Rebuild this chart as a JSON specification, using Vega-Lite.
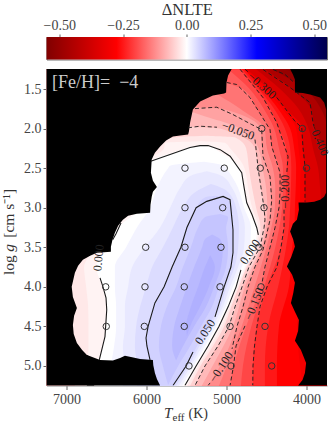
{"$schema":"https://vega.github.io/schema/vega-lite/v6.json","padding":{"left":1.5,"top":0,"right":0,"bottom":0},"config":{"font":"Liberation Serif","view":{"stroke":null},"axis":{"labelFontSize":14,"labelColor":"#444","tickColor":"#666","domainColor":"#888","grid":false,"title":null}},
"datasets":{
"reds":[
{"v":-0.52,"g":1.247,"t":3744},{"v":-0.52,"g":5.247,"t":3744},
{"v":-0.5,"g":1.25,"t":4270},{"v":-0.5,"g":1.5,"t":3830},{"v":-0.5,"g":1.75,"t":3744},{"v":-0.5,"g":5.25,"t":3744},
{"v":-0.45,"g":1.25,"t":4430},{"v":-0.45,"g":1.5,"t":4020},{"v":-0.45,"g":1.75,"t":3820},{"v":-0.45,"g":2,"t":3744},{"v":-0.45,"g":5.25,"t":3744},
{"v":-0.4,"g":1.25,"t":4520},{"v":-0.4,"g":1.5,"t":4180},{"v":-0.4,"g":1.75,"t":3945},{"v":-0.4,"g":2,"t":3895},{"v":-0.4,"g":2.25,"t":3780},{"v":-0.4,"g":2.5,"t":3744},{"v":-0.4,"g":5.25,"t":3744},
{"v":-0.35,"g":1.25,"t":4630},{"v":-0.35,"g":1.5,"t":4330},{"v":-0.35,"g":1.75,"t":4100},{"v":-0.35,"g":2,"t":3975},{"v":-0.35,"g":2.25,"t":3920},{"v":-0.35,"g":2.5,"t":3855},{"v":-0.35,"g":2.75,"t":3830},{"v":-0.35,"g":3,"t":3805},{"v":-0.35,"g":3.25,"t":3744},{"v":-0.35,"g":5.25,"t":3744},
{"v":-0.3,"g":1.25,"t":4745},{"v":-0.3,"g":1.5,"t":4480},{"v":-0.3,"g":1.75,"t":4255},{"v":-0.3,"g":2,"t":4055},{"v":-0.3,"g":2.25,"t":4045},{"v":-0.3,"g":2.5,"t":4020},{"v":-0.3,"g":2.75,"t":4020},{"v":-0.3,"g":3,"t":4020},{"v":-0.3,"g":3.25,"t":3980},{"v":-0.3,"g":3.5,"t":3955},{"v":-0.3,"g":4,"t":3930},{"v":-0.3,"g":4.5,"t":3895},{"v":-0.3,"g":5,"t":3770},{"v":-0.3,"g":5.25,"t":3744},
{"v":-0.275,"g":1.25,"t":4760},{"v":-0.275,"g":1.5,"t":4520},{"v":-0.275,"g":1.75,"t":4305},{"v":-0.275,"g":2,"t":4130},{"v":-0.275,"g":2.25,"t":4100},{"v":-0.275,"g":2.5,"t":4075},{"v":-0.275,"g":2.75,"t":4080},{"v":-0.275,"g":3,"t":4080},{"v":-0.275,"g":3.25,"t":4070},{"v":-0.275,"g":3.5,"t":4070},{"v":-0.275,"g":4,"t":4080},{"v":-0.275,"g":4.5,"t":4120},{"v":-0.275,"g":5,"t":4080},{"v":-0.275,"g":5.25,"t":4045},
{"v":-0.25,"g":1.25,"t":4780},{"v":-0.25,"g":1.5,"t":4555},{"v":-0.25,"g":1.75,"t":4355},{"v":-0.25,"g":2,"t":4205},{"v":-0.25,"g":2.25,"t":4155},{"v":-0.25,"g":2.5,"t":4130},{"v":-0.25,"g":2.75,"t":4135},{"v":-0.25,"g":3,"t":4145},{"v":-0.25,"g":3.25,"t":4150},{"v":-0.25,"g":3.5,"t":4180},{"v":-0.25,"g":4,"t":4220},{"v":-0.25,"g":4.5,"t":4345},{"v":-0.25,"g":5,"t":4370},{"v":-0.25,"g":5.25,"t":4370},
{"v":-0.225,"g":1.25,"t":4805},{"v":-0.225,"g":1.5,"t":4595},{"v":-0.225,"g":1.75,"t":4405},{"v":-0.225,"g":2,"t":4270},{"v":-0.225,"g":2.25,"t":4205},{"v":-0.225,"g":2.5,"t":4190},{"v":-0.225,"g":2.75,"t":4195},{"v":-0.225,"g":3,"t":4205},{"v":-0.225,"g":3.25,"t":4220},{"v":-0.225,"g":3.5,"t":4255},{"v":-0.225,"g":4,"t":4355},{"v":-0.225,"g":4.5,"t":4480},{"v":-0.225,"g":5,"t":4520},{"v":-0.225,"g":5.25,"t":4520},
{"v":-0.2,"g":1.25,"t":4830},{"v":-0.2,"g":1.5,"t":4630},{"v":-0.2,"g":1.75,"t":4455},{"v":-0.2,"g":2,"t":4345},{"v":-0.2,"g":2.25,"t":4255},{"v":-0.2,"g":2.5,"t":4245},{"v":-0.2,"g":2.75,"t":4255},{"v":-0.2,"g":3,"t":4270},{"v":-0.2,"g":3.25,"t":4280},{"v":-0.2,"g":3.5,"t":4320},{"v":-0.2,"g":4,"t":4495},{"v":-0.2,"g":4.5,"t":4620},{"v":-0.2,"g":5,"t":4670},{"v":-0.2,"g":5.25,"t":4670},
{"v":-0.175,"g":1.25,"t":4980},{"v":-0.175,"g":1.5,"t":4710},{"v":-0.175,"g":1.75,"t":4535},{"v":-0.175,"g":2,"t":4405},{"v":-0.175,"g":2.25,"t":4345},{"v":-0.175,"g":2.5,"t":4295},{"v":-0.175,"g":2.75,"t":4295},{"v":-0.175,"g":3,"t":4305},{"v":-0.175,"g":3.25,"t":4340},{"v":-0.175,"g":3.5,"t":4390},{"v":-0.175,"g":4,"t":4530},{"v":-0.175,"g":4.5,"t":4690},{"v":-0.175,"g":5,"t":4795},{"v":-0.175,"g":5.25,"t":4820},
{"v":-0.15,"g":1.25,"t":5145},{"v":-0.15,"g":1.42,"t":4995},{"v":-0.15,"g":1.5,"t":4795},{"v":-0.15,"g":1.75,"t":4620},{"v":-0.15,"g":2,"t":4470},{"v":-0.15,"g":2.25,"t":4430},{"v":-0.15,"g":2.5,"t":4345},{"v":-0.15,"g":2.75,"t":4330},{"v":-0.15,"g":3,"t":4345},{"v":-0.15,"g":3.25,"t":4395},{"v":-0.15,"g":3.5,"t":4455},{"v":-0.15,"g":4,"t":4570},{"v":-0.15,"g":4.5,"t":4755},{"v":-0.15,"g":5,"t":4910},{"v":-0.15,"g":5.25,"t":4955},
{"v":-0.125,"g":1.25,"t":5455},{"v":-0.125,"g":1.5,"t":5205},{"v":-0.125,"g":1.75,"t":4830},{"v":-0.125,"g":2,"t":4525},{"v":-0.125,"g":2.25,"t":4495},{"v":-0.125,"g":2.5,"t":4420},{"v":-0.125,"g":2.75,"t":4390},{"v":-0.125,"g":3,"t":4395},{"v":-0.125,"g":3.25,"t":4440},{"v":-0.125,"g":3.5,"t":4500},{"v":-0.125,"g":4,"t":4650},{"v":-0.125,"g":4.5,"t":4810},{"v":-0.125,"g":5,"t":4995},{"v":-0.125,"g":5.25,"t":5095},
{"v":-0.1,"g":1.25,"t":5960},{"v":-0.1,"g":1.5,"t":5710},{"v":-0.1,"g":1.72,"t":5460},{"v":-0.1,"g":1.75,"t":5055},{"v":-0.1,"g":2,"t":4580},{"v":-0.1,"g":2.25,"t":4555},{"v":-0.1,"g":2.5,"t":4495},{"v":-0.1,"g":2.75,"t":4445},{"v":-0.1,"g":3,"t":4445},{"v":-0.1,"g":3.25,"t":4480},{"v":-0.1,"g":3.5,"t":4545},{"v":-0.1,"g":4,"t":4730},{"v":-0.1,"g":4.5,"t":4870},{"v":-0.1,"g":5,"t":5080},{"v":-0.1,"g":5.25,"t":5230},
{"v":-0.075,"g":1.25,"t":5960},{"v":-0.075,"g":1.5,"t":5770},{"v":-0.075,"g":1.75,"t":5520},{"v":-0.075,"g":2,"t":4830},{"v":-0.075,"g":2.25,"t":4600},{"v":-0.075,"g":2.5,"t":4550},{"v":-0.075,"g":2.75,"t":4505},{"v":-0.075,"g":3,"t":4490},{"v":-0.075,"g":3.25,"t":4505},{"v":-0.075,"g":3.5,"t":4560},{"v":-0.075,"g":4,"t":4770},{"v":-0.075,"g":4.5,"t":4920},{"v":-0.075,"g":5,"t":5175},{"v":-0.075,"g":5.25,"t":5310},
{"v":-0.05,"g":1.25,"t":5960},{"v":-0.05,"g":1.75,"t":5960},{"v":-0.05,"g":1.97,"t":5480},{"v":-0.05,"g":2,"t":5080},{"v":-0.05,"g":2.25,"t":4645},{"v":-0.05,"g":2.5,"t":4605},{"v":-0.05,"g":2.75,"t":4570},{"v":-0.05,"g":3,"t":4530},{"v":-0.05,"g":3.25,"t":4530},{"v":-0.05,"g":3.5,"t":4580},{"v":-0.05,"g":4,"t":4805},{"v":-0.05,"g":4.5,"t":4970},{"v":-0.05,"g":5,"t":5270},{"v":-0.05,"g":5.25,"t":5395}
],
"inner":[
{"v":-0.025,"g":2.09,"a":5270,"b":5270},{"v":-0.025,"g":2.11,"a":5645,"b":4895},{"v":-0.025,"g":2.25,"a":6080,"b":4755},{"v":-0.025,"g":2.5,"a":6330,"b":4720},{"v":-0.025,"g":2.75,"a":6395,"b":4680},{"v":-0.025,"g":3,"a":6455,"b":4630},{"v":-0.025,"g":3.25,"a":6580,"b":4575},{"v":-0.025,"g":3.5,"a":6770,"b":4610},{"v":-0.025,"g":3.75,"a":6930,"b":4745},{"v":-0.025,"g":4,"a":6970,"b":4845},{"v":-0.025,"g":4.25,"a":6970,"b":4940},{"v":-0.025,"g":4.5,"a":6945,"b":5030},{"v":-0.025,"g":4.75,"a":6905,"b":5170},{"v":-0.025,"g":5,"a":6895,"b":5325},{"v":-0.025,"g":5.25,"a":6895,"b":5455},
{"v":-0.0125,"g":2.16,"a":5305,"b":5305},{"v":-0.0125,"g":2.18,"a":5770,"b":5020},{"v":-0.0125,"g":2.25,"a":5780,"b":4955},{"v":-0.0125,"g":2.5,"a":6180,"b":4775},{"v":-0.0125,"g":2.75,"a":6205,"b":4730},{"v":-0.0125,"g":3,"a":6270,"b":4680},{"v":-0.0125,"g":3.25,"a":6470,"b":4600},{"v":-0.0125,"g":3.5,"a":6630,"b":4630},{"v":-0.0125,"g":3.75,"a":6780,"b":4755},{"v":-0.0125,"g":4,"a":6755,"b":4860},{"v":-0.0125,"g":4.25,"a":6730,"b":4955},{"v":-0.0125,"g":4.5,"a":6725,"b":5060},{"v":-0.0125,"g":4.75,"a":6725,"b":5200},{"v":-0.0125,"g":5,"a":6750,"b":5355},{"v":-0.0125,"g":5.25,"a":6770,"b":5490},
{"v":0,"g":2.22,"a":5330,"b":5330},{"v":0,"g":2.23,"a":5455,"b":5180},{"v":0,"g":2.25,"a":5505,"b":5155},{"v":0,"g":2.4,"a":5930,"b":4920},{"v":0,"g":2.5,"a":6020,"b":4830},{"v":0,"g":2.75,"a":6020,"b":4780},{"v":0,"g":3,"a":6080,"b":4730},{"v":0,"g":3.25,"a":6355,"b":4620},{"v":0,"g":3.5,"a":6480,"b":4645},{"v":0,"g":3.75,"a":6630,"b":4770},{"v":0,"g":4,"a":6545,"b":4880},{"v":0,"g":4.25,"a":6500,"b":4980},{"v":0,"g":4.5,"a":6505,"b":5095},{"v":0,"g":4.75,"a":6545,"b":5230},{"v":0,"g":5,"a":6605,"b":5380},{"v":0,"g":5.25,"a":6640,"b":5520},
{"v":0.0125,"g":2.42,"a":5280,"b":5280},{"v":0.0125,"g":2.47,"a":5705,"b":5030},{"v":0.0125,"g":2.5,"a":5730,"b":5005},{"v":0.0125,"g":2.75,"a":5870,"b":4855},{"v":0.0125,"g":3,"a":5955,"b":4780},{"v":0.0125,"g":3.25,"a":6120,"b":4695},{"v":0.0125,"g":3.5,"a":6255,"b":4705},{"v":0.0125,"g":3.75,"a":6395,"b":4810},{"v":0.0125,"g":4,"a":6395,"b":4920},{"v":0.0125,"g":4.25,"a":6380,"b":5010},{"v":0.0125,"g":4.5,"a":6380,"b":5130},{"v":0.0125,"g":4.75,"a":6405,"b":5270},{"v":0.0125,"g":5,"a":6445,"b":5410},{"v":0.0125,"g":5.25,"a":6470,"b":5555},
{"v":0.025,"g":2.54,"a":5245,"b":5245},{"v":0.025,"g":2.6,"a":5455,"b":5055},{"v":0.025,"g":2.75,"a":5580,"b":4930},{"v":0.025,"g":3,"a":5705,"b":4830},{"v":0.025,"g":3.25,"a":5830,"b":4770},{"v":0.025,"g":3.5,"a":6020,"b":4780},{"v":0.025,"g":3.75,"a":6180,"b":4855},{"v":0.025,"g":4,"a":6230,"b":4955},{"v":0.025,"g":4.25,"a":6270,"b":5045},{"v":0.025,"g":4.5,"a":6270,"b":5170},{"v":0.025,"g":4.75,"a":6295,"b":5305},{"v":0.025,"g":5,"a":6280,"b":5445},{"v":0.025,"g":5.25,"a":6295,"b":5595},
{"v":0.0375,"g":2.7,"a":5195,"b":5195},{"v":0.0375,"g":2.78,"a":5355,"b":5005},{"v":0.0375,"g":3,"a":5545,"b":4880},{"v":0.0375,"g":3.25,"a":5670,"b":4845},{"v":0.0375,"g":3.5,"a":5795,"b":4855},{"v":0.0375,"g":3.75,"a":5930,"b":4900},{"v":0.0375,"g":4,"a":6005,"b":4995},{"v":0.0375,"g":4.25,"a":6080,"b":5075},{"v":0.0375,"g":4.5,"a":6130,"b":5200},{"v":0.0375,"g":4.75,"a":6145,"b":5340},{"v":0.0375,"g":5,"a":6120,"b":5475},{"v":0.0375,"g":5.25,"a":6120,"b":5630},
{"v":0.05,"g":2.85,"a":5145,"b":5145},{"v":0.05,"g":2.87,"a":5270,"b":5020},{"v":0.05,"g":3,"a":5380,"b":4930},{"v":0.05,"g":3.25,"a":5495,"b":4920},{"v":0.05,"g":3.5,"a":5570,"b":4920},{"v":0.05,"g":3.75,"a":5680,"b":4945},{"v":0.05,"g":4,"a":5780,"b":5030},{"v":0.05,"g":4.25,"a":5905,"b":5105},{"v":0.05,"g":4.5,"a":5980,"b":5230},{"v":0.05,"g":4.75,"a":6000,"b":5370},{"v":0.05,"g":5,"a":5945,"b":5505},{"v":0.05,"g":5.25,"a":5930,"b":5670},
{"v":0.0625,"g":3.08,"a":5080,"b":5080},{"v":0.0625,"g":3.12,"a":5270,"b":4980},{"v":0.0625,"g":3.25,"a":5355,"b":5005},{"v":0.0625,"g":3.5,"a":5445,"b":4980},{"v":0.0625,"g":3.75,"a":5545,"b":5005},{"v":0.0625,"g":4,"a":5630,"b":5095},{"v":0.0625,"g":4.25,"a":5745,"b":5180},{"v":0.0625,"g":4.5,"a":5820,"b":5320},{"v":0.0625,"g":4.75,"a":5845,"b":5455},{"v":0.0625,"g":5,"a":5795,"b":5605},{"v":0.0625,"g":5.24,"a":5730,"b":5730},
{"v":0.075,"g":3.34,"a":5180,"b":5180},{"v":0.075,"g":3.4,"a":5270,"b":5080},{"v":0.075,"g":3.5,"a":5305,"b":5045},{"v":0.075,"g":3.75,"a":5405,"b":5070},{"v":0.075,"g":4,"a":5495,"b":5155},{"v":0.075,"g":4.25,"a":5580,"b":5255},{"v":0.075,"g":4.5,"a":5655,"b":5405},{"v":0.075,"g":4.75,"a":5680,"b":5545},{"v":0.075,"g":4.93,"a":5630,"b":5630},
{"v":0.085,"g":3.6,"a":5205,"b":5205},{"v":0.085,"g":3.75,"a":5270,"b":5145},{"v":0.085,"g":4,"a":5355,"b":5220},{"v":0.085,"g":4.25,"a":5445,"b":5330},{"v":0.085,"g":4.5,"a":5505,"b":5455},{"v":0.085,"g":4.62,"a":5495,"b":5495}
],
"maskL":[{"g":1.247,"t":4935},{"g":1.33,"t":4980},{"g":1.418,"t":5000},{"g":1.544,"t":5005},{"g":1.557,"t":5030},{"g":1.582,"t":5170},{"g":1.658,"t":5330},{"g":1.759,"t":5420},{"g":1.924,"t":5455},{"g":2.038,"t":5470},{"g":2.076,"t":5480},{"g":2.089,"t":5580},{"g":2.101,"t":5670},{"g":2.152,"t":5755},{"g":2.228,"t":5830},{"g":2.304,"t":5895},{"g":2.392,"t":5935},{"g":2.557,"t":5945},{"g":2.658,"t":5920},{"g":2.738,"t":5870},{"g":2.797,"t":5920},{"g":2.861,"t":5935},{"g":2.962,"t":5950},{"g":3.063,"t":5955},{"g":3.076,"t":6120},{"g":3.101,"t":6230},{"g":3.152,"t":6295},{"g":3.228,"t":6355},{"g":3.316,"t":6395},{"g":3.405,"t":6425},{"g":3.494,"t":6445},{"g":3.557,"t":6445},{"g":3.57,"t":6620},{"g":3.608,"t":6705},{"g":3.658,"t":6795},{"g":3.734,"t":6855},{"g":3.823,"t":6895},{"g":4,"t":6935},{"g":4.127,"t":6920},{"g":4.266,"t":6870},{"g":4.367,"t":6905},{"g":4.481,"t":6920},{"g":4.595,"t":6910},{"g":4.709,"t":6870},{"g":4.797,"t":6805},{"g":4.861,"t":6745},{"g":4.911,"t":6655},{"g":5.247,"t":6655}],
"maskR":[{"g":1.247,"t":4205},{"g":1.316,"t":4170},{"g":1.38,"t":4145},{"g":1.544,"t":4145},{"g":1.55,"t":4045},{"g":1.57,"t":3955},{"g":1.607,"t":3830},{"g":1.671,"t":3780},{"g":1.759,"t":3755},{"g":2.81,"t":3755},{"g":2.861,"t":3780},{"g":2.899,"t":3830},{"g":2.924,"t":3905},{"g":2.933,"t":3995},{"g":2.934,"t":4100},{"g":3.025,"t":4095},{"g":3.152,"t":4120},{"g":3.203,"t":4170},{"g":3.3,"t":4205},{"g":3.405,"t":4165},{"g":3.49,"t":4145},{"g":3.62,"t":4190},{"g":3.743,"t":4245},{"g":3.848,"t":4180},{"g":3.949,"t":4145},{"g":4.076,"t":4165},{"g":4.203,"t":4195},{"g":4.316,"t":4145},{"g":4.418,"t":4095},{"g":4.557,"t":4105},{"g":4.68,"t":4145},{"g":4.798,"t":4070},{"g":4.962,"t":4005},{"g":5.089,"t":4020},{"g":5.178,"t":4050},{"g":5.247,"t":4105}],
"maskB":[{"t":6745,"g":4.861},{"t":6580,"g":4.924},{"t":6420,"g":4.93},{"t":6330,"g":4.899},{"t":6270,"g":4.87},{"t":6180,"g":4.89},{"t":6080,"g":4.911},{"t":5920,"g":4.924},{"t":5915,"g":4.99},{"t":5895,"g":5.089},{"t":5870,"g":5.165},{"t":5830,"g":5.247}],
"solid":[
{"c":"a","g":2.414,"t":5947},{"c":"a","g":2.316,"t":5670},{"c":"a","g":2.24,"t":5456},{"c":"a","g":2.215,"t":5330},{"c":"a","g":2.215,"t":5230},{"c":"a","g":2.266,"t":5080},{"c":"a","g":2.35,"t":4955},{"c":"a","g":2.557,"t":4810},{"c":"a","g":2.747,"t":4780},{"c":"a","g":2.937,"t":4747},{"c":"a","g":3.089,"t":4681},{"c":"a","g":3.253,"t":4622},{"c":"a","g":3.342,"t":4602},
{"c":"b","g":3.785,"t":4820},{"c":"b","g":4,"t":4880},{"c":"b","g":4.253,"t":4980},{"c":"b","g":4.5,"t":5095},{"c":"b","g":4.747,"t":5230},{"c":"b","g":5,"t":5380},{"c":"b","g":5.247,"t":5520},
{"c":"c","g":4.924,"t":5956},{"c":"c","g":4.747,"t":5995},{"c":"c","g":4.646,"t":6006},{"c":"c","g":4.5,"t":5980},{"c":"c","g":4.203,"t":5895},{"c":"c","g":4,"t":5780},{"c":"c","g":3.75,"t":5680},{"c":"c","g":3.5,"t":5570},{"c":"c","g":3.25,"t":5495},{"c":"c","g":3,"t":5380},{"c":"c","g":2.92,"t":5247},{"c":"c","g":2.857,"t":5043},{"c":"c","g":2.899,"t":4956},{"c":"c","g":3.278,"t":4919},{"c":"c","g":3.57,"t":4919},{"c":"c","g":3.75,"t":4945},{"c":"c","g":4,"t":5030},{"c":"c","g":4.38,"t":5144},
{"c":"d","g":4.823,"t":5419},{"c":"d","g":5,"t":5505},{"c":"d","g":5.247,"t":5669},
{"c":"e","g":3.886,"t":6581},{"c":"e","g":4,"t":6544},{"c":"e","g":4.139,"t":6506},{"c":"e","g":4.291,"t":6497},{"c":"e","g":4.629,"t":6519},{"c":"e","g":4.924,"t":6590},
{"c":"f","g":3.405,"t":6423},{"c":"f","g":3.329,"t":6381},{"c":"f","g":3.194,"t":6319}
],
"dashed":[
{"c":"a","g":1.99,"t":5481},{"c":"a","g":1.97,"t":5331},{"c":"a","g":1.983,"t":5119},
{"c":"b","g":2.139,"t":4644},{"c":"b","g":2.367,"t":4619},{"c":"b","g":2.5,"t":4606},{"c":"b","g":2.747,"t":4569},{"c":"b","g":3,"t":4531},{"c":"b","g":3.152,"t":4519},{"c":"b","g":3.253,"t":4531},{"c":"b","g":3.5,"t":4581},{"c":"b","g":3.747,"t":4719},{"c":"b","g":4,"t":4806},{"c":"b","g":4.253,"t":4894},{"c":"b","g":4.5,"t":4969},{"c":"b","g":4.747,"t":5106},{"c":"b","g":5,"t":5269},{"c":"b","g":5.247,"t":5394},
{"c":"c","g":1.747,"t":5394},{"c":"c","g":1.73,"t":5122},{"c":"c","g":1.823,"t":4919},{"c":"c","g":1.949,"t":4685},{"c":"c","g":2.013,"t":4560},{"c":"c","g":2.354,"t":4544},{"c":"c","g":2.608,"t":4456},{"c":"c","g":2.899,"t":4435},{"c":"c","g":3.152,"t":4456},{"c":"c","g":3.532,"t":4544},{"c":"c","g":3.747,"t":4644},{"c":"c","g":4,"t":4731},{"c":"c","g":4.253,"t":4794},{"c":"c","g":4.5,"t":4869},{"c":"c","g":4.785,"t":4931},
{"c":"d","g":5.215,"t":5206},{"c":"d","g":5.247,"t":5231},
{"c":"e","g":1.418,"t":4997},{"c":"e","g":1.443,"t":4872},{"c":"e","g":1.608,"t":4706},{"c":"e","g":1.844,"t":4560},{"c":"e","g":2.013,"t":4456},{"c":"e","g":2.224,"t":4435},{"c":"e","g":2.557,"t":4331},{"c":"e","g":2.81,"t":4331},{"c":"e","g":3,"t":4344},{"c":"e","g":3.253,"t":4394},{"c":"e","g":3.5,"t":4456},{"c":"e","g":3.747,"t":4519},{"c":"e","g":3.949,"t":4556},
{"c":"f","g":4.494,"t":4769},{"c":"f","g":4.747,"t":4881},{"c":"f","g":5,"t":4912},{"c":"f","g":5.247,"t":4956},
{"c":"g","g":1.25,"t":4831},{"c":"g","g":1.5,"t":4631},{"c":"g","g":1.608,"t":4544},{"c":"g","g":1.924,"t":4372},{"c":"g","g":2.354,"t":4231},{"c":"g","g":2.57,"t":4247},
{"c":"h","g":3.025,"t":4281},{"c":"h","g":3.253,"t":4281},{"c":"h","g":3.5,"t":4319},{"c":"h","g":3.747,"t":4369},{"c":"h","g":4,"t":4494},{"c":"h","g":4.25,"t":4581},{"c":"h","g":4.5,"t":4619},{"c":"h","g":4.747,"t":4650},{"c":"h","g":5,"t":4669},{"c":"h","g":5.247,"t":4672},
{"c":"i","g":1.25,"t":4769},{"c":"i","g":1.291,"t":4719},
{"c":"j","g":1.607,"t":4372},{"c":"j","g":1.908,"t":4144},{"c":"j","g":1.987,"t":4060},{"c":"j","g":2.24,"t":4044},{"c":"j","g":2.481,"t":4019},{"c":"j","g":2.924,"t":4019},
{"c":"k","g":1.253,"t":4544},{"c":"k","g":1.481,"t":4206},{"c":"k","g":1.671,"t":3956},{"c":"k","g":1.924,"t":3919},{"c":"k","g":1.962,"t":3906},
{"c":"l","g":1.253,"t":4419},{"c":"l","g":1.316,"t":4269},{"c":"l","g":1.405,"t":4169}
],
"pts":[{"t":4560,"g":2},{"t":4052,"g":2},{"t":5519,"g":2.5},{"t":5028,"g":2.5},{"t":4578,"g":2.5},{"t":4000,"g":2.5},{"t":5519,"g":3},{"t":5048,"g":3},{"t":4531,"g":3},{"t":6010,"g":3.5},{"t":5519,"g":3.5},{"t":5069,"g":3.5},{"t":4594,"g":3.5},{"t":6510,"g":4},{"t":6019,"g":4},{"t":5528,"g":4},{"t":5081,"g":4},{"t":4569,"g":4},{"t":6503,"g":4.5},{"t":6027,"g":4.5},{"t":5528,"g":4.5},{"t":4956,"g":4.5},{"t":4519,"g":4.5},{"t":5469,"g":5},{"t":4944,"g":5},{"t":4435,"g":5}]
},
"spacing":9,
"vconcat":[
{"width":280.5,"height":22.5,"view":{"stroke":"#777","strokeWidth":1},
"data":{"values":[{"a":-0.55,"b":0.55}]},
"mark":{"type":"rect","color":{"gradient":"linear","x1":0,"x2":1,"y1":0,"y2":0,"stops":[{"offset":0,"color":"#800000"},{"offset":0.25,"color":"#ff0000"},{"offset":0.5,"color":"#ffffff"},{"offset":0.75,"color":"#0000ff"},{"offset":1,"color":"#00004d"}]}},
"encoding":{"x":{"field":"a","type":"quantitative","scale":{"domain":[-0.55,0.55],"nice":false,"zero":false},"axis":{"orient":"top","values":[-0.5,-0.25,0,0.25,0.5],"format":".2f","tickSize":3,"labelPadding":2,"domain":false,"title":"ΔNLTE","titleFontSize":16.5,"titleFontWeight":"normal","titleColor":"#333","titlePadding":1}},"x2":{"field":"b"}}},
{"width":280.5,"height":316.5,"view":{"fill":"black","stroke":null},
"encoding":{"x":{"field":"t","type":"quantitative","scale":{"domain":[7250,3744],"nice":false,"zero":false},"axis":{"values":[7000,6000,5000,4000],"format":"d","tickSize":4,"labelPadding":3}},"y":{"field":"g","type":"quantitative","scale":{"domain":[5.247,1.247],"nice":false,"zero":false},"axis":{"values":[1.5,2,2.5,3,3.5,4,4.5,5],"format":".1f","tickSize":3.5,"domain":false,"labelPadding":2}}},
"layer":[
{"data":{"name":"reds"},"mark":{"type":"area","orient":"horizontal","interpolate":"monotone"},"encoding":{"x2":{"datum":7250},"color":{"field":"v","type":"quantitative","legend":null,"scale":{"domain":[-0.55,-0.275,0,0.275,0.55],"range":["#800000","#ff0000","#ffffff","#0000ff","#00004d"],"interpolate":"rgb"}}}},
{"data":{"name":"inner"},"mark":{"type":"area","orient":"horizontal","interpolate":"monotone"},"encoding":{"x":{"field":"a","type":"quantitative"},"x2":{"field":"b"},"color":{"field":"v","type":"quantitative","legend":null}}},
{"data":{"name":"maskL"},"mark":{"type":"area","orient":"horizontal","color":"black"},"encoding":{"x2":{"datum":7250}}},
{"data":{"name":"maskR"},"mark":{"type":"area","orient":"horizontal","color":"black"},"encoding":{"x2":{"datum":3744}}},
{"data":{"name":"maskB"},"mark":{"type":"area","orient":"vertical","color":"black"},"encoding":{"y2":{"datum":5.247}}},
{"data":{"name":"solid"},"mark":{"type":"line","color":"#1a1a1a","strokeWidth":1.1,"clip":true},"encoding":{"detail":{"field":"c"},"order":{"value":null}}},
{"data":{"name":"dashed"},"mark":{"type":"line","color":"#1a1a1a","strokeWidth":0.9,"strokeDash":[4,2.6],"clip":true},"encoding":{"detail":{"field":"c"},"order":{"value":null}}},
{"data":{"name":"pts"},"mark":{"type":"point","shape":"circle","size":42,"filled":false,"color":"#333","strokeWidth":1,"opacity":1}},
{"data":{"values":[{"g":2.025,"t":4856,"s":"−0.050"}]},"mark":{"type":"text","angle":20,"fontSize":12,"color":"#222"},"encoding":{"text":{"field":"s"}}},
{"data":{"values":[{"g":3.557,"t":4706,"s":"0.000"},{"g":4.57,"t":5269,"s":"0.050"},{"g":5.013,"t":5069,"s":"−0.100"}]},"mark":{"type":"text","angle":-57,"fontSize":12,"color":"#222"},"encoding":{"text":{"field":"s"}}},
{"data":{"values":[{"g":4.215,"t":4656,"s":"−0.150"}]},"mark":{"type":"text","angle":-68,"fontSize":12,"color":"#222"},"encoding":{"text":{"field":"s"}}},
{"data":{"values":[{"g":2.797,"t":4269,"s":"−0.200"}]},"mark":{"type":"text","angle":-90,"fontSize":12,"color":"#222"},"encoding":{"text":{"field":"s"}}},
{"data":{"values":[{"g":1.456,"t":4556,"s":"−0.300"}]},"mark":{"type":"text","angle":41,"fontSize":12,"color":"#222"},"encoding":{"text":{"field":"s"}}},
{"data":{"values":[{"g":2.139,"t":3845,"s":"−0.400"}]},"mark":{"type":"text","angle":67,"fontSize":12,"color":"#222"},"encoding":{"text":{"field":"s"}}},
{"data":{"values":[{"g":3.633,"t":6600,"s":"0.000"}]},"mark":{"type":"text","angle":-85,"fontSize":12,"color":"#222"},"encoding":{"text":{"field":"s"}}},
{"data":{"values":[{"g":1.43,"t":7181,"s":"[Fe/H]=\u00a0\u00a0−4"}]},"mark":{"type":"text","align":"left","fontSize":18,"color":"#ccc"},"encoding":{"text":{"field":"s"}}},
{"data":{"values":[{"g":5.658,"t":5781,"s":"T"}]},"mark":{"type":"text","align":"left","baseline":"alphabetic","fontSize":15,"fontStyle":"italic","color":"#333"},"encoding":{"text":{"field":"s"}}},
{"data":{"values":[{"g":5.696,"t":5675,"s":"eff"}]},"mark":{"type":"text","align":"left","baseline":"alphabetic","fontSize":11,"color":"#333"},"encoding":{"text":{"field":"s"}}},
{"data":{"values":[{"g":5.658,"t":5475,"s":"(K)"}]},"mark":{"type":"text","align":"left","baseline":"alphabetic","fontSize":14,"color":"#333"},"encoding":{"text":{"field":"s"}}},
{"data":{"values":[{"g":3.85,"t":7656,"s":"log"}]},"mark":{"type":"text","angle":-90,"align":"left","baseline":"alphabetic","fontSize":15.5,"color":"#333"},"encoding":{"text":{"field":"s"}}},
{"data":{"values":[{"g":3.557,"t":7656,"s":"g"}]},"mark":{"type":"text","angle":-90,"align":"left","baseline":"alphabetic","fontSize":15.5,"fontStyle":"italic","color":"#333"},"encoding":{"text":{"field":"s"}}},
{"data":{"values":[{"g":3.38,"t":7656,"s":"[cm s⁻¹]"}]},"mark":{"type":"text","angle":-90,"align":"left","baseline":"alphabetic","fontSize":15.5,"color":"#333"},"encoding":{"text":{"field":"s"}}}
]}
]}
